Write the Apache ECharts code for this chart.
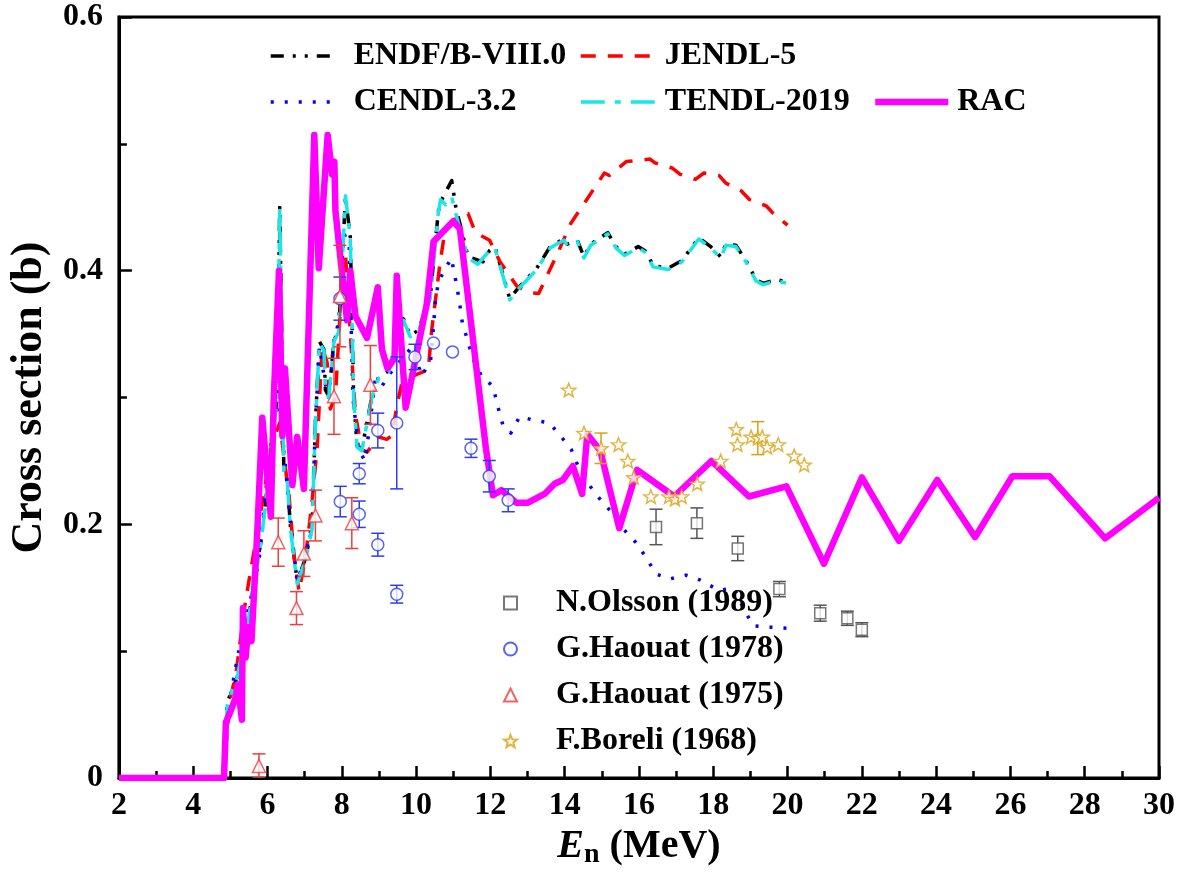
<!DOCTYPE html>
<html>
<head>
<meta charset="utf-8">
<script src="https://cdn.jsdelivr.net/npm/echarts@6/dist/echarts.min.js"></script>
<style>
  html, body { margin: 0; padding: 0; background: #fff; }
  #chart { width: 1178px; height: 874px; }
</style>
</head>
<body>
<div id="chart"></div>
<script>
// ---- evaluated cross sections [E (MeV), sigma (b)] ----
const endf = [[4.8,0],[4.92,0.06],[5.19,0.08],[5.5,0.129],[5.82,0.186],[5.95,0.218],[6.1,0.26],[6.26,0.30],[6.33,0.451],[6.44,0.244],[6.53,0.237],[6.62,0.197],[6.80,0.155],[7.02,0.173],[7.2,0.197],[7.29,0.28],[7.34,0.31],[7.40,0.344],[7.52,0.338],[7.56,0.306],[7.65,0.301],[7.79,0.345],[7.92,0.353],[8.10,0.459],[8.23,0.426],[8.32,0.30],[8.41,0.262],[8.54,0.259],[8.81,0.301],[8.99,0.316],[9.26,0.321],[9.66,0.362],[9.84,0.349],[10.06,0.353],[10.38,0.379],[10.60,0.447],[10.69,0.456],[10.96,0.471],[11.07,0.45],[11.4,0.411],[11.8,0.407],[11.98,0.416],[12.12,0.419],[12.26,0.405],[12.52,0.378],[12.80,0.388],[13.25,0.402],[13.61,0.419],[13.98,0.425],[14.07,0.421],[14.34,0.424],[14.52,0.411],[14.70,0.421],[15.16,0.430],[15.38,0.419],[15.61,0.413],[15.98,0.419],[16.2,0.415],[16.38,0.404],[16.79,0.402],[17.16,0.408],[17.61,0.426],[17.93,0.419],[18.20,0.411],[18.34,0.421],[18.61,0.420],[18.88,0.408],[19.15,0.393],[19.34,0.39],[19.70,0.393],[20.0,0.391]];

const tendl = [[4.8,0],[4.92,0.058],[5.19,0.08],[5.5,0.128],[5.82,0.185],[5.95,0.216],[6.1,0.258],[6.26,0.30],[6.33,0.450],[6.44,0.242],[6.53,0.235],[6.62,0.196],[6.80,0.153],[7.02,0.172],[7.2,0.196],[7.29,0.28],[7.34,0.31],[7.40,0.343],[7.52,0.337],[7.56,0.306],[7.65,0.300],[7.79,0.344],[7.92,0.352],[8.10,0.459],[8.23,0.425],[8.32,0.30],[8.41,0.261],[8.54,0.258],[8.81,0.300],[8.99,0.315],[9.26,0.320],[9.66,0.361],[9.84,0.348],[10.06,0.352],[10.38,0.378],[10.60,0.446],[10.66,0.456],[10.8,0.452],[10.96,0.458],[11.07,0.445],[11.4,0.410],[11.66,0.405],[11.98,0.416],[12.12,0.418],[12.26,0.404],[12.52,0.377],[12.80,0.387],[13.25,0.401],[13.61,0.418],[13.98,0.424],[14.07,0.420],[14.34,0.423],[14.52,0.410],[14.70,0.420],[15.16,0.429],[15.38,0.418],[15.61,0.412],[15.98,0.418],[16.2,0.414],[16.38,0.403],[16.79,0.401],[17.16,0.407],[17.61,0.425],[17.93,0.418],[18.20,0.410],[18.34,0.420],[18.61,0.419],[18.88,0.407],[19.15,0.392],[19.34,0.389],[19.70,0.392],[20.0,0.390]];

const jendl = [[4.8,0],[4.85,0.012],[4.97,0.059],[5.15,0.082],[5.41,0.14],[5.68,0.186],[5.91,0.226],[6.04,0.249],[6.2,0.27],[6.33,0.28],[6.44,0.254],[6.58,0.223],[6.71,0.176],[6.85,0.147],[7.02,0.173],[7.2,0.218],[7.34,0.262],[7.47,0.340],[7.61,0.327],[7.69,0.291],[7.83,0.301],[8.01,0.395],[8.10,0.413],[8.28,0.327],[8.37,0.286],[8.54,0.259],[8.68,0.257],[8.99,0.269],[9.21,0.267],[9.35,0.27],[9.48,0.293],[9.62,0.312],[10.0,0.318],[10.33,0.322],[10.42,0.353],[10.64,0.405],[10.78,0.432],[11.0,0.44],[11.4,0.445],[11.6,0.43],[11.98,0.424],[12.26,0.407],[12.71,0.388],[13.0,0.383],[13.3,0.382],[13.80,0.413],[14.16,0.437],[14.57,0.455],[15.07,0.477],[15.2,0.475],[15.66,0.486],[16.3,0.488],[16.43,0.485],[16.89,0.481],[17.11,0.476],[17.52,0.472],[17.75,0.477],[18.16,0.475],[18.34,0.469],[18.75,0.463],[18.98,0.456],[19.43,0.451],[19.62,0.445],[20.0,0.436]];

const cendl = [[4.8,0],[4.97,0.059],[5.19,0.095],[5.59,0.147],[5.77,0.171],[5.86,0.198],[6.0,0.24],[6.26,0.304],[6.4,0.267],[6.49,0.244],[6.62,0.20],[6.80,0.155],[7.02,0.175],[7.2,0.2],[7.29,0.28],[7.4,0.34],[7.56,0.31],[7.65,0.30],[7.79,0.345],[7.92,0.36],[8.05,0.43],[8.2,0.42],[8.3,0.3],[8.45,0.259],[8.63,0.25],[8.90,0.314],[9.08,0.309],[9.3,0.319],[9.6,0.33],[9.9,0.34],[10.15,0.317],[10.39,0.329],[10.48,0.36],[10.52,0.377],[10.61,0.392],[10.95,0.41],[11.07,0.392],[11.16,0.377],[11.25,0.358],[11.39,0.345],[11.52,0.331],[11.78,0.316],[12.07,0.309],[12.2,0.293],[12.34,0.278],[12.55,0.272],[12.79,0.285],[13.19,0.282],[13.59,0.280],[13.91,0.269],[14.18,0.259],[14.40,0.243],[14.78,0.226],[15.01,0.218],[15.28,0.209],[15.56,0.197],[15.94,0.185],[16.21,0.173],[16.46,0.161],[16.83,0.157],[17.26,0.160],[17.66,0.156],[18.15,0.148],[18.55,0.15],[18.78,0.136],[19.07,0.12],[19.54,0.119],[20.0,0.118]];

const rac = [[2,0],[4.83,0],[4.88,0.044],[5.01,0.053],[5.15,0.064],[5.2,0.074],[5.31,0.046],[5.34,0.134],[5.41,0.095],[5.49,0.119],[5.57,0.108],[5.73,0.197],[5.86,0.284],[6.09,0.206],[6.17,0.30],[6.31,0.40],[6.40,0.27],[6.47,0.323],[6.67,0.231],[6.80,0.269],[6.98,0.228],[7.26,0.507],[7.38,0.402],[7.62,0.507],[7.74,0.476],[7.80,0.486],[7.83,0.447],[8.14,0.361],[8.23,0.40],[8.37,0.364],[8.68,0.347],[8.97,0.387],[9.08,0.338],[9.23,0.323],[9.42,0.331],[9.48,0.396],[9.72,0.292],[10.29,0.374],[10.47,0.423],[11.0,0.439],[11.18,0.433],[11.88,0.26],[12.07,0.223],[12.3,0.227],[12.7,0.217],[13.0,0.217],[13.46,0.224],[13.73,0.232],[13.95,0.235],[14.22,0.246],[14.47,0.224],[14.61,0.271],[14.96,0.258],[15.47,0.197],[15.95,0.243],[16.95,0.222],[17.95,0.250],[18.96,0.222],[19.97,0.230],[20.98,0.169],[22.0,0.237],[23.0,0.187],[24.03,0.235],[25.05,0.19],[26.05,0.238],[27.05,0.238],[28.55,0.189],[30,0.221]];

// ---- measurements [E (MeV), sigma (b), uncertainty (b)] ----
const olsson = [[16.46,0.198,0.014],[17.56,0.201,0.012],[18.66,0.181,0.0096],[19.78,0.149,0.006],[20.88,0.130,0.0063],[21.61,0.126,0.0056],[22.0,0.117,0.0055]];
const haouat78 = [[7.95,0.378,0.017],[7.96,0.218,0.012],[8.47,0.24,0.008],[8.47,0.208,0.0104],[8.97,0.274,0.0137],[8.97,0.184,0.009],[9.48,0.28,0.052],[9.48,0.145,0.007],[9.97,0.332,0.01],[10.47,0.343,0],[10.98,0.336,0],[11.48,0.26,0.0072],[11.97,0.238,0.0124],[12.48,0.219,0.009]];
const haouat75 = [[5.77,0.0096,0.0095],[6.29,0.186,0.019],[6.78,0.134,0.013],[6.98,0.177,0.018],[7.29,0.207,0.02],[7.79,0.301,0.03],[7.95,0.38,0.04],[8.27,0.201,0.02],[8.77,0.31,0.031]];
const boreli = [[14.11,0.306,0],[14.52,0.272,0],[14.98,0.26,0.012],[15.45,0.263,0],[15.70,0.250,0],[15.86,0.237,0],[16.32,0.222,0],[16.81,0.222,0],[16.97,0.220,0],[17.15,0.222,0],[17.57,0.232,0],[18.2,0.250,0],[18.62,0.275,0],[18.65,0.263,0],[19.02,0.269,0],[19.2,0.268,0.013],[19.32,0.269,0],[19.45,0.261,0],[19.75,0.263,0],[20.18,0.254,0],[20.45,0.247,0]];

const FONT = 'Liberation Serif';
const STAR = 'path://M12,1 L14.9,8.6 L23,9 L16.7,14 L18.9,22 L12,17.5 L5.1,22 L7.3,14 L1,9 L9.1,8.6 Z';

function curve(name, data, color, width, type, z) {
  return {
    name, type: 'line', data, symbol: 'none', showSymbol: false, z, clip: true,
    lineStyle: { color, width, type, cap: 'butt', join: 'round' },
    itemStyle: { color },
    animation: false
  };
}

function errorBars(id, data, color) {
  return {
    id, type: 'custom', data, z: 4, clip: true, silent: true, animation: false,
    encode: { x: 0, y: 1 },
    renderItem(params, api) {
      const x = api.value(0), y = api.value(1), e = api.value(2);
      if (!e) return null;
      const top = api.coord([x, y + e]);
      const bot = api.coord([x, y - e]);
      const w = 6.5;
      const st = { stroke: color, lineWidth: 1.5 };
      return {
        type: 'group',
        children: [
          { type: 'line', shape: { x1: top[0], y1: top[1], x2: bot[0], y2: bot[1] }, style: st },
          { type: 'line', shape: { x1: top[0] - w, y1: top[1], x2: top[0] + w, y2: top[1] }, style: st },
          { type: 'line', shape: { x1: bot[0] - w, y1: bot[1], x2: bot[0] + w, y2: bot[1] }, style: st }
        ]
      };
    }
  };
}

function points(name, data, symbol, size, color) {
  return {
    name, type: 'scatter', data, symbol, symbolSize: size, symbolKeepAspect: true, z: 5, animation: false,
    encode: { x: 0, y: 1 },
    itemStyle: { color: '#fff', borderColor: color, borderWidth: 1.5 }
  };
}

const labelFont = { fontFamily: FONT, fontWeight: 'bold', fontSize: 32, color: '#000' };
const legendText = { fontFamily: FONT, fontWeight: 'bold', fontSize: 32, color: '#000', lineHeight: 36 };
// line-sample legends: draw only the line, no marker in the middle
const noMarker = { color: 'rgba(0,0,0,0)', borderColor: 'rgba(0,0,0,0)', borderWidth: 0, opacity: 0 };

const chart = echarts.init(document.getElementById('chart'), null, { renderer: 'canvas' });
chart.setOption({
  backgroundColor: '#fff',
  animation: false,
  grid: { left: 116, top: 17, width: 1044, height: 768, show: true, borderColor: '#000', borderWidth: 3, backgroundColor: 'transparent' },
  xAxis: {
    type: 'value', min: 2, max: 30, interval: 2,
    axisLine: { onZero: false, lineStyle: { color: '#000', width: 3 } },
    axisTick: { inside: true, length: 12, lineStyle: { color: '#000', width: 2.5 } },
    minorTick: { show: true, splitNumber: 2, length: 7, lineStyle: { color: '#000', width: 2.5 } },
    splitLine: { show: false },
    axisLabel: Object.assign({ margin: 12 }, labelFont),
    name: '{e|E}{n|n}{t| (MeV)}',
    nameLocation: 'middle', nameGap: 40,
    nameTextStyle: {
      rich: {
        e: { fontFamily: FONT, fontWeight: 'bold', fontStyle: 'italic', fontSize: 40, color: '#000', verticalAlign: 'top', lineHeight: 44 },
        n: { fontFamily: FONT, fontWeight: 'bold', fontSize: 28, color: '#000', verticalAlign: 'top', lineHeight: 44, padding: [14, 0, 0, 0] },
        t: { fontFamily: FONT, fontWeight: 'bold', fontSize: 40, color: '#000', verticalAlign: 'top', lineHeight: 44 }
      }
    }
  },
  yAxis: {
    type: 'value', min: 0, max: 0.6, interval: 0.2,
    axisLine: { onZero: false, lineStyle: { color: '#000', width: 3 } },
    axisTick: { inside: true, length: 13, lineStyle: { color: '#000', width: 2.5 } },
    minorTick: { show: true, splitNumber: 2, length: 8, lineStyle: { color: '#000', width: 2.5 } },
    splitLine: { show: false },
    axisLabel: Object.assign({ margin: 16 }, labelFont),
    name: 'Cross section (b)',
    nameLocation: 'middle', nameGap: 62,
    nameTextStyle: { fontFamily: FONT, fontWeight: 'bold', fontSize: 44, color: '#000' }
  },
  legend: [
    {
      left: 269, top: 38, orient: 'vertical', itemGap: 10, padding: 0,
      itemWidth: 64, itemHeight: 14, selectedMode: false,
      data: ['ENDF/B-VIII.0', 'CENDL-3.2'],
      lineStyle: { width: 3.5 }, itemStyle: noMarker,
      textStyle: Object.assign({ padding: [0, 0, 0, 14] }, legendText)
    },
    {
      left: 579, top: 38, orient: 'vertical', itemGap: 10, padding: 0,
      itemWidth: 75, itemHeight: 14, selectedMode: false,
      data: ['JENDL-5', 'TENDL-2019'],
      lineStyle: { width: 3.5 }, itemStyle: noMarker,
      textStyle: Object.assign({ padding: [0, 0, 0, 4] }, legendText)
    },
    {
      left: 872, top: 84, orient: 'vertical', padding: 0,
      itemWidth: 73, itemHeight: 14, selectedMode: false,
      data: ['RAC'],
      lineStyle: { width: 6.5 }, itemStyle: noMarker,
      textStyle: Object.assign({ padding: [0, 0, 0, 4] }, legendText)
    },
    {
      left: 503, top: 585, orient: 'vertical', itemGap: 10, padding: 0,
      itemWidth: 13, itemHeight: 13, selectedMode: false, symbolKeepAspect: true,
      data: ['N.Olsson (1989)', 'G.Haouat (1978)', 'G.Haouat (1975)', 'F.Boreli (1968)'],
      textStyle: Object.assign({ padding: [0, 0, 0, 34] }, legendText)
    }
  ],
  series: [
    curve('ENDF/B-VIII.0', endf, '#000000', 3.5, [13, 9, 3, 9, 3, 9], 2),
    curve('JENDL-5', jendl, '#ff0000', 3.5, [15, 12], 2),
    curve('CENDL-3.2', cendl, '#0000ff', 3.5, [3, 11], 2),
    curve('TENDL-2019', tendl, '#19e6e6', 3.5, [24, 10, 6, 10], 2),
    curve('RAC', rac, '#ff00ff', 6.5, 'solid', 3),
    errorBars('olsson-err', olsson, '#555555'),
    errorBars('haouat78-err', haouat78, '#2a3df0'),
    errorBars('haouat75-err', haouat75, '#f03c3c'),
    errorBars('boreli-err', boreli, '#d8a215'),
    points('N.Olsson (1989)', olsson, 'rect', 11, '#555555'),
    points('G.Haouat (1978)', haouat78, 'circle', 12, '#2a3df0'),
    points('G.Haouat (1975)', haouat75, 'triangle', 13, '#f03c3c'),
    points('F.Boreli (1968)', boreli, STAR, 14, '#d8a215')
  ]
});
</script>
</body>
</html>
